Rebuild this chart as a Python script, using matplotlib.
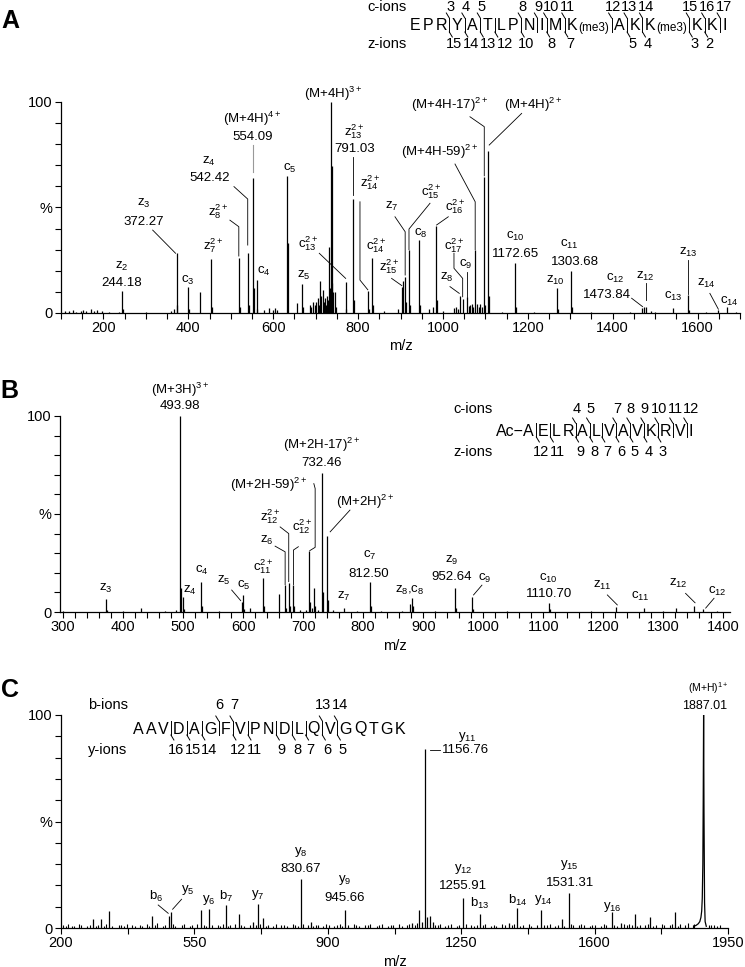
import matplotlib
matplotlib.use('Agg')
import matplotlib.pyplot as plt
from matplotlib.ticker import MultipleLocator, FixedLocator

plt.rcParams['font.family'] = ['Liberation Sans', 'DejaVu Sans']
plt.rcParams['mathtext.default'] = 'regular'
plt.rcParams['axes.linewidth'] = 0.9

# ---------------- panel A : m/z and relative intensity (%)
a_mz = [110, 118, 128, 135, 146, 152, 160, 170, 178, 186, 196, 214, 236,
        244.18, 246, 300, 360, 366, 372.27, 374, 399, 401, 428, 454, 456,
        519, 521, 540, 542, 553, 555, 561, 563, 578, 590, 600, 604, 608,
        632, 634, 655, 668, 670, 687, 690, 694, 698, 702, 706, 709, 711,
        713, 716.6, 719, 722, 724, 726, 729, 731.5, 733, 736.2, 737.5,
        739.3, 741, 745.6, 748, 770.8, 772, 788.7, 790, 823, 825, 834, 836,
        860, 895, 904, 907, 911, 914, 920, 922, 943.5, 945, 968, 976, 983.6,
        985, 1000, 1025, 1030, 1035, 1040, 1046.5, 1056, 1061, 1064, 1067.6,
        1070, 1076, 1081, 1084, 1087, 1091, 1097.5, 1100, 1106, 1108, 1140,
        1170, 1172, 1215, 1268, 1270, 1301, 1303, 1350, 1440, 1470, 1474,
        1478, 1490, 1500, 1543, 1578, 1580, 1620, 1649, 1670, 1690]
a_int = [1.0, 0.8, 1.2, 0.7, 1.0, 1.5, 1.0, 1.8, 1.0, 1.2, 0.8, 0.6, 0.6,
         10.4, 2.0, 0.5, 1.0, 2.0, 28.3, 4.0, 12.2, 2.0, 9.8, 25.6, 3.0,
         26.2, 3.0, 28.6, 4.0, 64.0, 12.0, 15.5, 2.0, 1.5, 2.2, 1.5, 2.2, 1.3,
         65.0, 33.0, 4.9, 13.7, 3.0, 4.0, 3.0, 5.0, 4.0, 5.0, 7.0, 4.0, 15.0,
         8.0, 11.0, 5.0, 7.0, 4.0, 8.0, 6.0, 31.4, 12.0, 100.0, 14.0,
         69.7, 10.0, 10.0, 3.0, 14.5, 2.0, 54.0, 6.0, 10.4, 2.0, 26.0, 4.0,
         1.0, 2.0, 12.5, 15.0, 17.0, 5.0, 29.9, 4.0, 34.6, 4.0, 2.0, 3.0, 41.4,
         6.0, 1.0, 2.5, 3.0, 2.0, 8.2, 6.6, 7.7, 3.5, 4.0, 4.5,
         3.0, 29.9, 4.5, 3.0, 4.5, 3.0, 64.6, 4.0, 77.0, 8.0, 0.7,
         23.5, 3.0, 0.5, 11.7, 2.0, 19.9, 3.0, 0.6, 0.5, 2.5, 3.0,
         3.0, 0.8, 0.6, 2.2, 8.5, 1.5, 0.6, 1.5, 2.7, 0.6]

# ---------------- panel B
b_mz = [300, 371.7, 373, 400, 429.5, 470, 488, 495, 496.5, 499.5, 501, 529.5,
        531, 560, 598.8, 600.5, 602, 611.7, 633.8, 635, 660.5, 670, 671.5,
        676, 677.5, 683.8, 685, 695, 705, 710.5, 712, 715, 718.8, 720, 725,
        731.7, 733, 740.5, 742, 750, 768, 790, 811.7, 813, 830, 865, 878, 881,
        883, 920, 952.2, 954, 981.7, 983, 1040, 1110, 1112, 1180, 1221.7,
        1267, 1300, 1321.7, 1350.5, 1365.5, 1390]
b_int = [0.3, 6.5, 1.2, 0.3, 2.2, 0.3, 0.8, 100.0, 12.0, 7.8, 1.5, 15.4,
         3.0, 0.7, 5.3, 8.7, 1.5, 2.0, 17.1, 3.0, 9.2, 13.7, 2.0,
         14.9, 3.0, 13.6, 3.0, 1.0, 1.0, 31.0, 5.0, 2.0, 12.0, 3.0, 1.0,
         71.0, 10.0, 38.9, 6.0, 1.0, 2.0, 0.5, 15.1, 3.0, 0.4, 0.6, 4.0, 7.0,
         3.0, 0.5, 12.0, 2.0, 7.8, 1.5, 0.4, 4.7, 1.5, 0.4, 2.4,
         2.0, 0.6, 2.0, 3.2, 1.3, 0.5]

# ---------------- panel C (fragment peaks, baseline noise, precursor profile)
c_mz = [284.7, 305, 326, 439, 484, 488.4, 567, 588, 631.8, 666.7, 705, 715.7,
        730.4, 829.3, 855.5, 944.6, 1120, 1139.5, 1148, 1156, 1160, 1169,
        1175, 1254.8, 1298.6, 1375, 1397.3, 1460, 1514.4, 1532, 1645.5,
        1670, 1705, 1746, 1812]
c_int = [4.0, 4.0, 8.1, 5.7, 5.5, 7.7, 8.5, 8.8, 10.8, 6.6, 3.0, 11.1,
         4.7, 23.0, 3.0, 8.5, 2.5, 8.5, 3.0, 83.9, 5.0, 5.7,
         3.0, 14.2, 6.6, 2.5, 9.2, 8.5, 4.0, 16.3, 7.7,
         2.5, 6.6, 5.0, 7.3]
c_noise_mz = [
    204, 213, 219, 228, 235, 247, 253, 268, 275, 291,
    298, 312, 318, 333, 351, 358, 366, 372, 387, 393,
    407, 413, 426, 432, 446, 452, 467, 474, 493, 499,
    517, 523, 538, 544, 558, 575, 580, 595, 612, 618,
    625, 638, 644, 657, 672, 679, 697, 712, 722, 737,
    743, 757, 763, 778, 786, 793, 808, 815, 822, 836,
    848, 862, 868, 874, 887, 895, 902, 917, 925, 932,
    938, 952, 968, 975, 982, 997, 1005, 1012, 1028, 1035,
    1043, 1058, 1065, 1072, 1088, 1094, 1108, 1114, 1128, 1133,
    1182, 1188, 1194, 1208, 1215, 1222, 1238, 1245, 1262, 1277,
    1284, 1291, 1306, 1313, 1328, 1335, 1342, 1357, 1364, 1382,
    1389, 1405, 1412, 1427, 1434, 1448, 1468, 1475, 1482, 1497,
    1504, 1521, 1538, 1544, 1558, 1565, 1572, 1587, 1594, 1602,
    1617, 1624, 1631, 1652, 1659, 1677, 1684, 1691, 1698, 1712,
    1718, 1732, 1739, 1753, 1760, 1776, 1783, 1797, 1804, 1818,
    1824, 1838, 1844, 1857, 1862, 1900, 1906, 1912, 1920, 1928]
c_noise_int = [
    1.3, 0.9, 1.7, 1.1, 0.8, 1.9, 1.2, 1.0, 1.5, 0.9,
    1.4, 1.1, 2.0, 0.8, 1.3, 1.6, 1.0, 1.8, 1.2, 0.9,
    1.5, 1.1, 1.9, 1.0, 1.3, 2.2, 0.9, 1.4, 1.7, 1.1,
    1.2, 1.8, 1.0, 1.5, 2.0, 1.2, 0.9, 1.6, 1.3, 1.1,
    2.1, 1.0, 1.4, 1.8, 1.2, 0.9, 1.6, 1.3, 2.0, 1.1,
    1.4, 1.0, 1.8, 1.2, 1.5, 0.9, 1.7, 1.3, 1.1, 1.9,
    1.2, 1.0, 1.6, 1.4, 0.9, 1.8, 1.3, 1.1, 1.5, 2.0,
    1.0, 1.4, 1.7, 1.2, 0.9, 1.6, 1.3, 1.9, 1.1, 1.4,
    1.8, 1.0, 1.5, 1.2, 2.1, 1.1, 1.4, 1.7, 1.2, 2.3,
    1.6, 1.2, 1.9, 1.0, 1.4, 1.7, 1.1, 1.5, 2.0, 1.2,
    1.0, 1.6, 1.3, 1.8, 1.1, 1.4, 0.9, 1.7, 1.2, 1.5,
    2.0, 1.1, 1.4, 1.8, 1.0, 1.3, 1.6, 1.2, 1.9, 1.1,
    1.4, 1.0, 1.7, 1.3, 1.5, 2.1, 1.2, 1.0, 1.6, 1.4,
    1.1, 1.8, 1.3, 1.5, 1.0, 1.7, 1.2, 2.0, 1.4, 1.1,
    1.6, 1.3, 1.9, 1.0, 1.5, 1.8, 1.2, 1.4, 2.0, 1.1,
    1.7, 1.3, 2.2, 1.5, 1.9, 1.6, 1.2, 1.4, 1.1, 1.3]
c_prec_mz = [1860, 1866, 1872, 1876, 1879, 1881, 1882.5, 1884, 1885, 1886,
             1887, 1888.5, 1890, 1893]
c_prec_int = [0.8, 1.2, 2.0, 3.0, 5.0, 8.0, 14.0, 30.0, 60.0, 100.0,
              55.0, 12.0, 3.0, 0.8]

# ---------------- sequences
a_seq = ['E', 'P', 'R', 'Y', 'A', 'T', 'L', 'P', 'N', 'I', 'M', 'K(me3)',
         'A', 'K', 'K(me3)', 'K', 'K', 'I']
a_c = [3, 4, 5, 8, 9, 10, 11, 12, 13, 14, 15, 16, 17]
a_z = [15, 14, 13, 12, 10, 8, 7, 5, 4, 3, 2]
b_seq = ['Ac\u2212A', 'E', 'L', 'R', 'A', 'L', 'V', 'A', 'V', 'K', 'R', 'V', 'I']
b_c = [4, 5, 7, 8, 9, 10, 11, 12]
b_z = [12, 11, 9, 8, 7, 6, 5, 4, 3]
c_seq = list('AAVDAGFVPNDLQVGQTGK')
c_b = [6, 7, 13, 14]
c_y = [16, 15, 14, 12, 11, 9, 8, 7, 6, 5]

# ---------------- peak labels (text, x, y[, ha, size]) and leader lines
a_labels = [('z$_2$', 243, 22), ('244.18', 243, 14.4),
            ('z$_3$', 296, 51.7), ('372.27', 296, 43.3),
            ('c$_3$', 398.5, 15.6), ('z$_7^{2+}$', 459, 32),
            ('z$_8^{2+}$', 471, 48),
            ('z$_4$', 449.5, 71.7), ('542.42', 449.5, 64),
            ('(M+4H)$^{4+}$', 551, 91.8), ('554.09', 551, 83.6),
            ('c$_4$', 577, 19.6), ('c$_5$', 638, 68.6), ('z$_5$', 671, 18),
            ('c$_{13}^{2+}$', 683, 33), ('(M+4H)$^{3+}$', 741.6, 104),
            ('z$_{13}^{2+}$', 791, 86), ('791.03', 791, 77.6),
            ('z$_{14}^{2+}$', 828, 62), ('c$_{14}^{2+}$', 843, 32),
            ('z$_{15}^{2+}$', 873, 22), ('z$_7$', 879, 50.4),
            ('c$_{15}^{2+}$', 973, 57.5), ('c$_8$', 947.5, 37.8),
            ('c$_{16}^{2+}$', 1028, 50.4), ('c$_{17}^{2+}$', 1026, 32),
            ('c$_9$', 1053.5, 23.2), ('z$_8$', 1010, 16.9),
            ('(M+4H-59)$^{2+}$', 993, 76.4), ('(M+4H-17)$^{2+}$', 1016.6, 98.6),
            ('(M+4H)$^{2+}$', 1213, 98.6),
            ('c$_{10}$', 1171, 36.2), ('1172.65', 1171, 28),
            ('z$_{10}$', 1264, 15.6),
            ('c$_{11}$', 1299, 32.7), ('1303.68', 1311, 24.3),
            ('c$_{12}$', 1405, 16.4), ('1473.84', 1386, 8.5),
            ('z$_{12}$', 1476, 17.5), ('c$_{13}$', 1543, 7.7),
            ('z$_{13}$', 1578, 28.6), ('z$_{14}$', 1621, 14),
            ('c$_{14}$', 1676, 5.4)]
a_leaders = [[(316, 39.3), (370, 28.3)],
             [(498, 44), (519, 40.9), (519, 27)],
             [(507.6, 59.9), (540, 54), (540, 32.2)],
             [(804.5, 52.7), (804.5, 15.6), (823, 11)],
             [(708.6, 28.3), (770.8, 16.4)],
             [(788.7, 73.8), (788.7, 56)],
             [(879, 16.4), (903, 13)],
             [(887, 45.6), (911, 38.5), (911, 18)],
             [(969.5, 52), (920, 39.8), (920, 30)],
             [(1012.6, 45.6), (985, 41.7)],
             [(1026, 28.3), (1026, 21.2), (1046.5, 16.4), (1046.5, 7.7)],
             [(1056, 19.6), (1056, 7.7)],
             [(1016.6, 12.5), (1038.5, 9.3)],
             [(1028.4, 70.6), (1076, 52.7), (1076, 30)],
             [(1063.7, 93), (1097.4, 88.3), (1097.4, 65)],
             [(1185.5, 94.6), (1109, 79.6)],
             [(1444.6, 7), (1470.5, 3)],
             [(1477.7, 14.4), (1477.7, 6)],
             [(1578, 25.1), (1578, 9)],
             [(1629, 9.3), (1649, 1.8)]]
a_gray_leaders = [[(553, 79.6), (553, 67)]]

b_labels = [('(M+3H)$^{3+}$', 495, 113.4), ('493.98', 495, 104.9),
            ('z$_3$', 371.7, 12), ('z$_4$', 511.7, 10.9), ('c$_4$', 531, 21),
            ('z$_5$', 568.3, 16), ('c$_5$', 600.5, 13.7),
            ('c$_{11}^{2+}$', 633.8, 23), ('z$_6$', 639.4, 36.3),
            ('z$_{12}^{2+}$', 645, 48.5), ('c$_{12}^{2+}$', 697.8, 43.4),
            ('(M+2H-59)$^{2+}$', 642, 65),
            ('(M+2H-17)$^{2+}$', 731, 85), ('732.46', 731, 76),
            ('(M+2H)$^{2+}$', 803, 56),
            ('c$_7$', 811.7, 29), ('812.50', 809.5, 19.2),
            ('z$_7$', 768, 7.8), ('z$_8$,c$_8$', 878, 11.2),
            ('z$_9$', 947.8, 26.5), ('952.64', 947.8, 18),
            ('c$_9$', 1002, 17.2),
            ('c$_{10}$', 1109, 17.2), ('1110.70', 1109, 9),
            ('z$_{11}$', 1198, 13.7), ('c$_{11}$', 1261.7, 7.8),
            ('z$_{12}$', 1325.5, 14.6), ('c$_{12}$', 1389.4, 10.3)]
b_leaders = [[(581, 11.2), (596, 5.8)],
             [(653.3, 33.6), (670, 30.7), (670, 14)],
             [(661.7, 43.4), (676, 40), (676, 15.5)],
             [(692, 33.3), (683.8, 31.6), (683.8, 14)],
             [(717.8, 65.5), (720, 63), (720, 33), (711, 31.3)],
             [(778, 52), (745, 40.9)],
             [(997.8, 13.7), (983.8, 8.7)],
             [(1206.7, 8.7), (1223.3, 3.6)],
             [(1337, 9.5), (1352.8, 4.7)],
             [(1384.4, 7), (1370.5, 2)]]

c_labels = [('y$_8$', 829.3, 35.8), ('830.67', 829.3, 27.6),
            ('y$_9$', 944.6, 22.5), ('945.66', 944.6, 14),
            ('b$_6$', 449, 15), ('y$_5$', 532, 17.8), ('y$_6$', 588, 13.1),
            ('b$_7$', 634.3, 14.7), ('y$_7$', 715.7, 15.5),
            ('y$_{11}$', 1265, 89.5), ('1156.76', 1200, 83.6, 'left'),
            ('y$_{12}$', 1254.8, 27.6), ('1255.91', 1254.8, 19.7),
            ('b$_{13}$', 1298.6, 11.3), ('b$_{14}$', 1399, 13.1),
            ('y$_{14}$', 1466.4, 13.1),
            ('y$_{15}$', 1534.6, 29.6), ('1531.31', 1534.6, 21.3),
            ('y$_{16}$', 1645.5, 10),
            ('(M+H)$^{1+}$', 1897, 112.5, 'center', 7.5),
            ('1887.01', 1888.5, 104.2, 'center', 9)]
c_leaders = [[(455, 10.8), (481.3, 6.9)],
             [(516.4, 13.5), (492.8, 8.8)],
             [(1167.5, 83.6), (1193.7, 83.6)]]

W, H = 745, 967
fig = plt.figure(figsize=(W / 100, H / 100), dpi=100)


def px_rect(left, top, right, bottom):
    return [left / W, 1 - bottom / H, (right - left) / W, (bottom - top) / H]


def make_axes(rect, xlim, major, minor):
    ax = fig.add_axes(rect)
    ax.set_xlim(*xlim)
    ax.set_ylim(0, 100)
    for s in ['top', 'right']:
        ax.spines[s].set_visible(False)
    ax.set_xticks(major)
    ax.xaxis.set_minor_locator(FixedLocator(minor))
    ax.set_yticks([0, 50, 100])
    ax.set_yticklabels(['0', '%', '100'])
    ax.yaxis.set_minor_locator(MultipleLocator(10))
    ax.tick_params(which='both', direction='out', length=4, width=0.8,
                   labelsize=10.5, pad=2)
    ax.set_xlabel('m/z', fontsize=10.5, labelpad=3)
    return ax


def annotate(ax, labels, leaders, gray=()):
    for lab in labels:
        txt, x, y = lab[:3]
        ha = lab[3] if len(lab) > 3 else 'center'
        size = lab[4] if len(lab) > 4 else 9.5
        ax.text(x, y, txt, ha=ha, va='center', fontsize=size, clip_on=False)
    for pts in leaders:
        ax.plot([p[0] for p in pts], [p[1] for p in pts], color='black',
                lw=0.6, clip_on=False)
    for pts in gray:
        ax.plot([p[0] for p in pts], [p[1] for p in pts], color='0.6',
                lw=0.8, clip_on=False)


axA = make_axes(px_rect(61, 102, 740, 313), (100, 1700),
                range(200, 1601, 200), range(100, 1701, 50))
axA.vlines(a_mz, 0, a_int, color='black', lw=0.9)
annotate(axA, a_labels, a_leaders, a_gray_leaders)

axB = make_axes(px_rect(60, 416, 730, 612), (295, 1411),
                range(300, 1401, 100), range(300, 1411, 20))
axB.vlines(b_mz, 0, b_int, color='black', lw=0.9)
annotate(axB, b_labels, b_leaders)

axC = make_axes(px_rect(61, 715, 728, 928), (200, 1950),
                range(200, 1951, 350), range(200, 1951, 175))
axC.vlines(c_noise_mz, 0, c_noise_int, color='black', lw=0.8)
axC.vlines(c_mz, 0, c_int, color='black', lw=0.9)
axC.plot(c_prec_mz, c_prec_int, color='black', lw=0.9)
annotate(axC, c_labels, c_leaders)

# overlay in pixel coordinates for panel letters and sequence maps
ov = fig.add_axes([0, 0, 1, 1], zorder=10)
ov.set_xlim(0, W)
ov.set_ylim(H, 0)
ov.axis('off')

for letter, x, y in [('A', 10, 21), ('B', 9, 391), ('C', 10, 690)]:
    ov.text(x, y, letter, fontsize=18, fontweight='bold', ha='center', va='center')

renderer = fig.canvas.get_renderer()
RES_SIZE = 11.5
NUM_FONT = ['Liberation Sans Narrow', 'Liberation Sans']


def place_numbers(pairs, y):
    # pairs: (x, text); nudge right so neighbouring numbers never overlap
    pairs = sorted(pairs)
    last_right = -1e9
    for x, s in pairs:
        t = ov.text(x, y, s, fontsize=10.5, family=NUM_FONT,
                    ha='center', va='center')
        w = t.get_window_extent(renderer).width
        if x - w / 2 < last_right + 0.5:
            x = last_right + 0.5 + w / 2
            t.set_x(x)
        last_right = x + w / 2


def draw_sequence(residues, c_ions, z_ions, x0, x1, y_seq, y_c, y_z,
                  lab_x, c_name, z_name):
    n = len(residues)
    base_y = y_seq + 5.5
    items = []
    for res in residues:
        if '(' in res:
            base, mod = res.split('(', 1)
            t1 = ov.text(0, base_y, base, fontsize=RES_SIZE, va='baseline')
            t2 = ov.text(0, base_y, '(' + mod, fontsize=8.5, va='baseline')
            w1 = t1.get_window_extent(renderer).width
            w2 = t2.get_window_extent(renderer).width
            items.append(([t1, t2], [0, w1 + 0.5], w1 + w2 + 0.5))
        else:
            t = ov.text(0, base_y, res, fontsize=RES_SIZE, va='baseline')
            items.append(([t], [0], t.get_window_extent(renderer).width))
    cuts = {}
    for k in c_ions:
        cuts.setdefault(k, set()).add('c')
    for k in z_ions:
        cuts.setdefault(n - k, set()).add('z')
    weights = [2.3 if (i + 1) in cuts else 1.0 for i in range(n - 1)]
    unit = (x1 - x0 - sum(it[2] for it in items)) / sum(weights)
    cut_x = {}
    x = x0
    for i, (texts, offs, w) in enumerate(items):
        for t, o in zip(texts, offs):
            t.set_x(x + o)
        x += w
        if i < n - 1:
            g = weights[i] * unit
            if (i + 1) in cuts:
                cut_x[i + 1] = x + g / 2
            x += g
    for site, kinds in cuts.items():
        xm = cut_x[site]
        ov.plot([xm, xm], [y_seq - 7, y_seq + 7], color='black', lw=0.7)
        if 'c' in kinds:
            ov.plot([xm - 3, xm], [y_seq - 12, y_seq - 7], color='black', lw=0.7)
        if 'z' in kinds:
            ov.plot([xm, xm + 3], [y_seq + 7, y_seq + 12], color='black', lw=0.7)
    place_numbers([(cut_x[k] + 1, str(k)) for k in c_ions], y_c)
    place_numbers([(cut_x[n - k] + 5, str(k)) for k in z_ions], y_z)
    ov.text(lab_x, y_c, c_name, fontsize=10.5, ha='center', va='center')
    ov.text(lab_x, y_z, z_name, fontsize=10.5, ha='center', va='center')


draw_sequence(a_seq, a_c, a_z, 410, 727, 25, 7, 44, 387, 'c-ions', 'z-ions')
draw_sequence(b_seq, b_c, b_z, 496, 693, 430, 409, 452, 473, 'c-ions', 'z-ions')
draw_sequence(c_seq, c_b, c_y, 133, 405, 728, 705, 750, 108, 'b-ions', 'y-ions')

fig.savefig('out.png', dpi=100)
